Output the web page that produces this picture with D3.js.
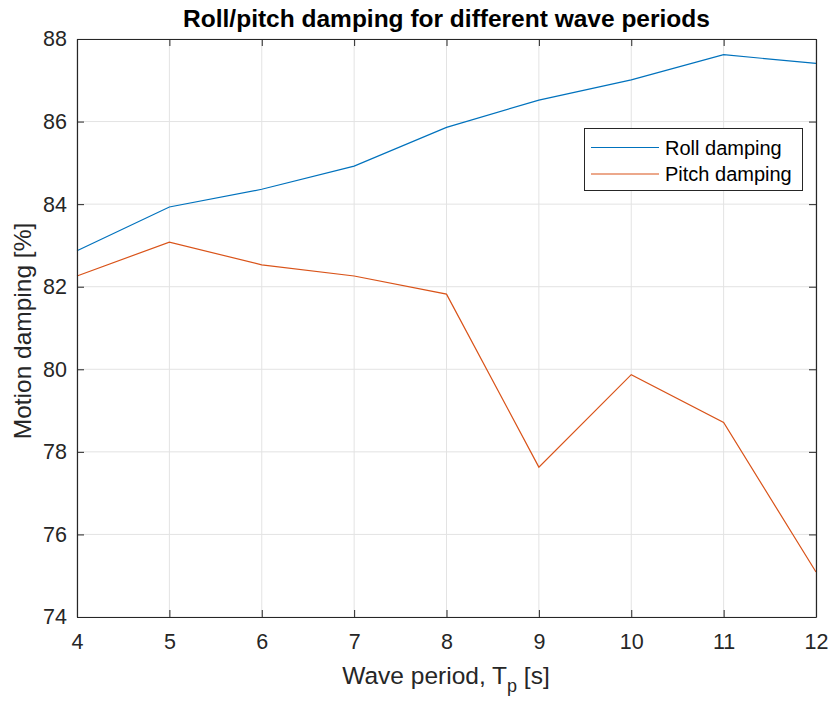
<!DOCTYPE html>
<html>
<head>
<meta charset="utf-8">
<script src="https://cdn.jsdelivr.net/npm/d3@7"></script>
<style>
  html, body { margin: 0; padding: 0; background: #fff; }
  svg { display: block; }
  text { font-family: "Liberation Sans", Arial, Helvetica, sans-serif; }
</style>
</head>
<body>
<svg id="chart" width="831" height="702"></svg>
<script>
// Wave periods (s)
const periods = [4, 5, 6, 7, 8, 9, 10, 11, 12];
// Motion damping (%) per wave period
const rollDamping  = [82.87, 83.93, 84.36, 84.92, 85.86, 86.52, 87.01, 87.62, 87.41];
const pitchDamping = [82.26, 83.08, 82.53, 82.26, 81.82, 77.63, 79.87, 78.71, 75.09];
const seriesNames = ["Roll damping", "Pitch damping"];
const xTicks = [4, 5, 6, 7, 8, 9, 10, 11, 12];
const yTicks = [74, 76, 78, 80, 82, 84, 86, 88];

const colors = ["#0072BD", "#D95319"];
const axisColor = "#262626";
const gridColor = "#e3e3e3";

const svg = d3.select("#chart");
const m = { left: 77, right: 816, top: 39, bottom: 617 };

const x = d3.scaleLinear().domain([4, 12]).range([m.left, m.right]);
const y = d3.scaleLinear().domain([74, 88]).range([m.bottom, m.top]);

// grid
const grid = svg.append("g");
grid.selectAll("line.gx").data(xTicks).join("line")
  .attr("x1", d => x(d)).attr("x2", d => x(d))
  .attr("y1", m.top).attr("y2", m.bottom)
  .attr("stroke", gridColor).attr("stroke-width", 1);
grid.selectAll("line.gy").data(yTicks).join("line")
  .attr("y1", d => y(d)).attr("y2", d => y(d))
  .attr("x1", m.left).attr("x2", m.right)
  .attr("stroke", gridColor).attr("stroke-width", 1);

// series lines
const line = d3.line().x((d, i) => x(periods[i])).y(d => y(d));
[rollDamping, pitchDamping].forEach((vals, k) => {
  svg.append("path").datum(vals)
    .attr("d", line)
    .attr("fill", "none")
    .attr("stroke", colors[k])
    .attr("stroke-width", 1.2);
});

// axes (ticks pointing inward, box on all sides)
const tickLen = 7;
const fmt = d3.format("d");
const xAxis = svg.append("g").attr("transform", `translate(0,${m.bottom})`)
  .call(d3.axisBottom(x).tickValues(xTicks).tickFormat(fmt).tickSizeInner(-tickLen).tickSizeOuter(0).tickPadding(17));
const xAxisTop = svg.append("g").attr("transform", `translate(0,${m.top})`)
  .call(d3.axisTop(x).tickValues(xTicks).tickFormat("").tickSizeInner(-tickLen).tickSizeOuter(0));
const yAxis = svg.append("g").attr("transform", `translate(${m.left},0)`)
  .call(d3.axisLeft(y).tickValues(yTicks).tickFormat(fmt).tickSizeInner(-tickLen).tickSizeOuter(0).tickPadding(10));
const yAxisRight = svg.append("g").attr("transform", `translate(${m.right},0)`)
  .call(d3.axisRight(y).tickValues(yTicks).tickFormat("").tickSizeInner(-tickLen).tickSizeOuter(0));

[xAxis, xAxisTop, yAxis, yAxisRight].forEach(g => {
  g.select(".domain").attr("stroke", axisColor).attr("stroke-width", 1.2);
  g.selectAll(".tick line").attr("stroke", axisColor).attr("stroke-width", 1);
  g.selectAll(".tick text").attr("fill", axisColor)
    .style("font-size", "21.5px").style("font-family", "'Liberation Sans', Arial, sans-serif");
});

// title
svg.append("text")
  .attr("x", (m.left + m.right) / 2).attr("y", 27)
  .attr("text-anchor", "middle")
  .style("font-size", "24.5px").style("font-weight", "bold")
  .attr("fill", "#000")
  .text("Roll/pitch damping for different wave periods");

// x label with subscript
const xl = svg.append("text")
  .attr("x", 446).attr("y", 684)
  .attr("text-anchor", "middle")
  .style("font-size", "24.5px").attr("fill", axisColor);
xl.append("tspan").text("Wave period, T");
xl.append("tspan").attr("dy", 8).style("font-size", "18px").text("p");
xl.append("tspan").attr("dy", -8).text(" [s]");

// y label
svg.append("text")
  .attr("transform", `translate(31,${(m.top + m.bottom) / 2 + 3}) rotate(-90)`)
  .attr("text-anchor", "middle")
  .style("font-size", "24.5px").attr("fill", axisColor)
  .text("Motion damping [%]");

// legend
const lg = svg.append("g");
lg.append("rect")
  .attr("x", 584.5).attr("y", 128.5).attr("width", 218).attr("height", 62)
  .attr("fill", "#fff").attr("stroke", axisColor).attr("stroke-width", 1);
seriesNames.forEach((name, k) => {
  const cy = 147.5 + k * 26.5;
  lg.append("line")
    .attr("x1", 591).attr("x2", 659).attr("y1", cy).attr("y2", cy)
    .attr("stroke", colors[k]).attr("stroke-width", 1.2);
  lg.append("text")
    .attr("x", 665).attr("y", cy + 7)
    .style("font-size", "20px").attr("fill", "#000")
    .text(name);
});
</script>
</body>
</html>
